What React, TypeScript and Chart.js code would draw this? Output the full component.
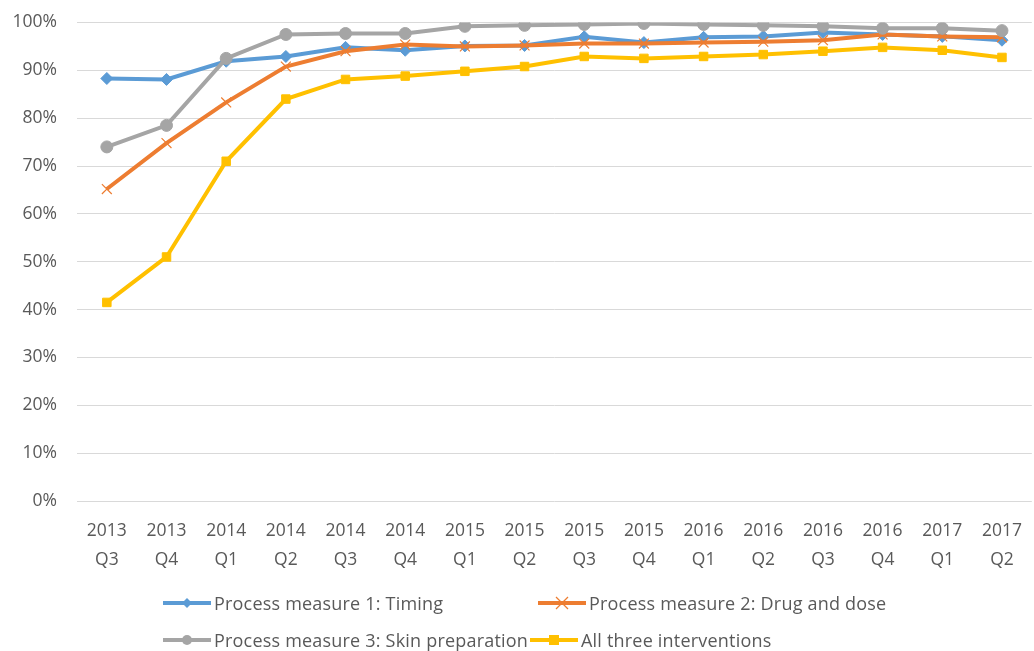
import React, { useEffect, useRef } from 'react';
import { Chart, registerables } from 'chart.js';

Chart.register(...registerables);

const years = ['2013', '2013', '2014', '2014', '2014', '2014', '2015', '2015', '2015', '2015', '2016', '2016', '2016', '2016', '2017', '2017'];
const quarters = ['Q3', 'Q4', 'Q1', 'Q2', 'Q3', 'Q4', 'Q1', 'Q2', 'Q3', 'Q4', 'Q1', 'Q2', 'Q3', 'Q4', 'Q1', 'Q2'];

const timing = [88.3, 88.1, 91.9, 92.9, 94.8, 94.2, 95.1, 95.2, 97.0, 95.8, 96.9, 97.1, 97.9, 97.5, 97.1, 96.3];
const drugDose = [65.2, 74.8, 83.3, 90.8, 94.0, 95.4, 95.0, 95.2, 95.6, 95.6, 95.8, 96.0, 96.3, 97.5, 97.1, 96.9];
const skinPrep = [74.0, 78.5, 92.5, 97.5, 97.7, 97.7, 99.2, 99.4, 99.6, 99.8, 99.6, 99.4, 99.2, 98.8, 98.8, 98.3];
const allThree = [41.5, 51.0, 71.0, 84.0, 88.1, 88.8, 89.8, 90.8, 92.9, 92.5, 92.9, 93.3, 94.0, 94.8, 94.2, 92.7];

const seriesNames = [
  'Process measure 1: Timing',
  'Process measure 2: Drug and dose',
  'Process measure 3: Skin preparation',
  'All three interventions',
];
const colors = ['#5B9BD5', '#ED7D31', '#A5A5A5', '#FFC000'];
const TEXT = '#595959';
const FONT = "'Open Sans', sans-serif";

function LegendMarker({ idx }: { idx: number }) {
  const c = colors[idx];
  let marker: React.ReactNode = null;
  if (idx === 0) marker = <polygon points="24,2 29,7 24,12 19,7" fill={c} />;
  if (idx === 1) marker = (
    <g stroke={c} strokeWidth={1.2}>
      <line x1={18} y1={1} x2={30} y2={13} />
      <line x1={30} y1={1} x2={18} y2={13} />
    </g>
  );
  if (idx === 2) marker = <circle cx={24} cy={7} r={5} fill={c} />;
  if (idx === 3) marker = <rect x={19} y={2} width={10} height={10} fill={c} />;
  return (
    <svg width={48} height={14} style={{ display: 'block' }}>
      <line x1={0} y1={7} x2={48} y2={7} stroke={c} strokeWidth={4} strokeLinecap="round" />
      {marker}
    </svg>
  );
}

export default function App() {
  const ref = useRef<HTMLCanvasElement | null>(null);

  useEffect(() => {
    if (!ref.current) return;
    const labels = years.map((y, i) => [y, quarters[i]]);
    const mk = (i: number, data: number[], style: any, radius: number, order: number) => ({
      label: seriesNames[i],
      data,
      borderColor: colors[i],
      backgroundColor: colors[i],
      borderWidth: 4,
      pointStyle: style,
      pointRadius: radius,
      pointBorderWidth: style === 'crossRot' ? 1.2 : 1,
      pointBorderColor: colors[i],
      pointBackgroundColor: colors[i],
      tension: 0,
      order,
    });
    const chart = new Chart(ref.current, {
      type: 'line',
      data: {
        labels,
        datasets: [
          mk(0, timing, 'rectRot', 6, 4),
          mk(1, drugDose, 'crossRot', 7, 3),
          mk(2, skinPrep, 'circle', 6, 2),
          mk(3, allThree, 'rect', 6, 1),
        ],
      },
      options: {
        animation: false,
        responsive: false,
        layout: { padding: { top: 6, right: 4, left: 0, bottom: 0 } },
        plugins: {
          legend: { display: false },
          tooltip: { enabled: false },
        },
        scales: {
          x: {
            offset: true,
            grid: { display: false },
            border: { display: false },
            ticks: {
              color: TEXT,
              font: { family: FONT, size: 17.5, lineHeight: 1.65 },
              padding: 8,
              maxRotation: 0,
              autoSkip: false,
            },
            afterFit: (s: any) => { s.height = 150; },
          },
          y: {
            min: 0,
            max: 100,
            grid: { color: '#D9D9D9', lineWidth: 1, drawTicks: false },
            border: { display: false },
            ticks: {
              stepSize: 10,
              color: TEXT,
              padding: 20,
              font: { family: FONT, size: 17.5 },
              callback: (v: any) => v + '%',
            },
            afterFit: (s: any) => { s.width = 77; },
          },
        },
      },
    });
    return () => chart.destroy();
  }, []);

  const legendItems = [
    { idx: 0, left: 163, top: 603 },
    { idx: 1, left: 538, top: 603 },
    { idx: 2, left: 163, top: 640 },
    { idx: 3, left: 530, top: 640 },
  ];

  return (
    <div style={{ position: 'fixed', left: 0, top: 0, width: 1034, height: 651, overflow: 'hidden', background: '#fff' }}>
      <div style={{ position: 'absolute', left: 0, top: -8, width: 1040, height: 659 }}>
        <canvas ref={ref} width={1040} height={659} />
      </div>
      {legendItems.map((it) => (
        <div
          key={it.idx}
          style={{
            position: 'absolute',
            left: it.left,
            top: it.top - 13,
            height: 26,
            display: 'flex',
            alignItems: 'center',
            fontFamily: FONT,
            fontSize: 18,
            letterSpacing: 0.2,
            color: TEXT,
            whiteSpace: 'nowrap',
          }}
        >
          <LegendMarker idx={it.idx} />
          <span style={{ marginLeft: 3 }}>{seriesNames[it.idx]}</span>
        </div>
      ))}
    </div>
  );
}
